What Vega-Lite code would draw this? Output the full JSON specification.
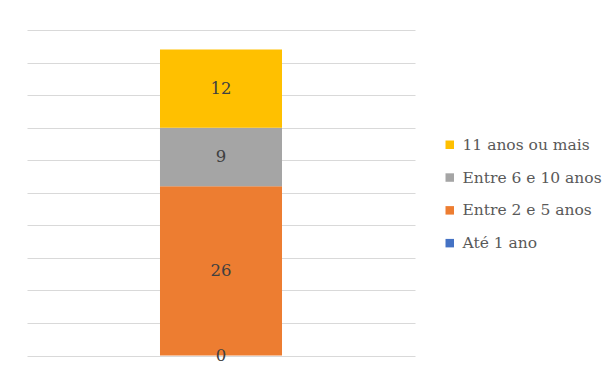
{
  "$schema": "https://vega.github.io/schema/vega-lite/v6.json",
  "width": 388,
  "height": 325.5,
  "autosize": {"type": "none"},
  "padding": {"left": 27, "top": 30, "right": 187, "bottom": 11.5},
  "background": "white",
  "config": {
    "view": {"stroke": null},
    "font": "DejaVu Serif"
  },
  "data": {
    "values": [
      {"grupo": "Total", "faixa": "Até 1 ano", "valor": 0},
      {"grupo": "Total", "faixa": "Entre 2 e 5 anos", "valor": 26},
      {"grupo": "Total", "faixa": "Entre 6 e 10 anos", "valor": 9},
      {"grupo": "Total", "faixa": "11 anos ou mais", "valor": 12}
    ]
  },
  "transform": [
    {"calculate": "indexof(['Até 1 ano','Entre 2 e 5 anos','Entre 6 e 10 anos','11 anos ou mais'], datum.faixa)", "as": "ordem"},
    {"stack": "valor", "groupby": ["grupo"], "sort": [{"field": "ordem", "order": "ascending"}], "as": ["v0", "v1"]},
    {"calculate": "(datum.v0 + datum.v1) / 2", "as": "meio"}
  ],
  "encoding": {
    "x": {
      "field": "grupo",
      "type": "nominal",
      "axis": null,
      "scale": {"paddingInner": 0.5, "paddingOuter": 0.545}
    }
  },
  "layer": [
    {
      "mark": {"type": "bar"},
      "encoding": {
        "y": {
          "field": "v0",
          "type": "quantitative",
          "scale": {"domain": [0, 50], "nice": false},
          "axis": {
            "values": [0, 5, 10, 15, 20, 25, 30, 35, 40, 45, 50],
            "labels": false,
            "ticks": false,
            "domain": false,
            "title": null,
            "grid": true,
            "gridColor": "#d9d9d9",
            "gridWidth": 1
          }
        },
        "y2": {"field": "v1"},
        "color": {
          "field": "faixa",
          "type": "nominal",
          "scale": {
            "domain": ["11 anos ou mais", "Entre 6 e 10 anos", "Entre 2 e 5 anos", "Até 1 ano"],
            "range": ["#FFC000", "#A5A5A5", "#ED7D31", "#4472C4"]
          },
          "legend": {
            "title": null,
            "orient": "none",
            "legendX": 415,
            "legendY": 107,
            "padding": 0,
            "symbolType": "square",
            "symbolSize": 72,
            "symbolStrokeWidth": 0,
            "labelFont": "DejaVu Serif",
            "labelFontSize": 15.5,
            "labelColor": "#595959",
            "labelOffset": 5,
            "rowPadding": 15.8,
            "labelLimit": 300
          }
        }
      }
    },
    {
      "mark": {"type": "text", "font": "DejaVu Serif", "fontSize": 16.5, "color": "#404040", "baseline": "middle"},
      "encoding": {
        "y": {
          "field": "meio",
          "type": "quantitative",
          "axis": {
            "values": [0, 5, 10, 15, 20, 25, 30, 35, 40, 45, 50],
            "labels": false,
            "ticks": false,
            "domain": false,
            "title": null,
            "grid": true,
            "gridColor": "#d9d9d9",
            "gridWidth": 1
          }
        },
        "text": {"field": "valor", "type": "quantitative"}
      }
    }
  ]
}
